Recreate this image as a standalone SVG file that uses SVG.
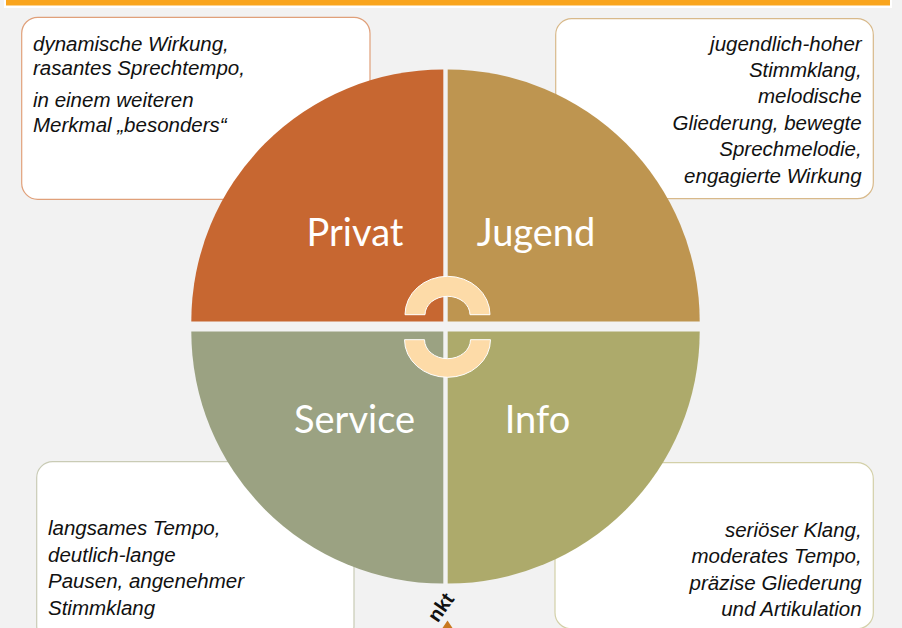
<svg xmlns="http://www.w3.org/2000/svg" width="902" height="628" viewBox="0 0 902 628">
<style>
.box{fill:#ffffff;stroke-width:1.2}
.desc{font-family:"Liberation Sans",Arial,sans-serif;font-style:italic;font-size:20.5px;fill:#111111}
.lbl{font-family:Lato,"Open Sans",sans-serif;font-size:38px;fill:#ffffff;text-anchor:middle}
.arc{fill:#FDDBA8;stroke:#ffffff;stroke-width:1}
</style>
<rect x="0" y="0" width="902" height="628" fill="#f2f2f2"/>
<rect x="4" y="0" width="888" height="8" fill="#ffffff"/>
<rect x="6" y="0" width="884" height="5.5" fill="#F9A51E"/>

<g id="box-privat">
<rect class="box" x="21.7" y="17.3" width="348.3" height="182" rx="16" stroke="#E0A07A"/>
<text class="desc" x="33" y="51">dynamische Wirkung,</text>
<text class="desc" x="33" y="75">rasantes Sprechtempo,</text>
<text class="desc" x="33" y="107">in einem weiteren</text>
<text class="desc" x="33" y="132">Merkmal „besonders“</text>
</g>
<g id="box-jugend">
<rect class="box" x="555.7" y="18.7" width="317.6" height="180" rx="16" stroke="#D8B98A"/>
<g text-anchor="end">
<text class="desc" x="861.7" y="50.5">jugendlich-hoher</text>
<text class="desc" x="861.7" y="77">Stimmklang,</text>
<text class="desc" x="861.7" y="103">melodische</text>
<text class="desc" x="861.7" y="129.5">Gliederung, bewegte</text>
<text class="desc" x="861.7" y="156">Sprechmelodie,</text>
<text class="desc" x="861.7" y="182.5">engagierte Wirkung</text>
</g>
</g>
<g id="box-service">
<rect class="box" x="36.7" y="461.7" width="317.3" height="180" rx="16" stroke="#C9CBB5"/>
<text class="desc" x="48" y="535">langsames Tempo,</text>
<text class="desc" x="48" y="561.5">deutlich-lange</text>
<text class="desc" x="48" y="588">Pausen, angenehmer</text>
<text class="desc" x="48" y="614.5">Stimmklang</text>
</g>
<g id="box-info">
<rect class="box" x="555" y="462.7" width="318.3" height="166" rx="16" stroke="#D3D0A8"/>
<g text-anchor="end">
<text class="desc" x="861.7" y="537">seriöser Klang,</text>
<text class="desc" x="861.7" y="563">moderates Tempo,</text>
<text class="desc" x="861.7" y="589.5">präzise Gliederung</text>
<text class="desc" x="861.7" y="615.7">und Artikulation</text>
</g>
</g>

<g id="privat">
<path d="M443.3,321.5 L191.3,321.5 A252,252 0 0 1 443.3,69.5 Z" fill="#C76731"/>
<text class="lbl" x="355" y="246">Privat</text>
</g>
<g id="jugend">
<path d="M447.7,321.5 L447.7,69.5 A252,252 0 0 1 699.7,321.5 Z" fill="#BE9550"/>
<text class="lbl" x="536" y="246">Jugend</text>
</g>
<g id="service">
<path d="M443.3,331.5 L443.3,583.5 A252,252 0 0 1 191.3,331.5 Z" fill="#9BA282"/>
<text class="lbl" x="354.5" y="433">Service</text>
</g>
<g id="info">
<path d="M447.7,331.5 L699.7,331.5 A252,252 0 0 1 447.7,583.5 Z" fill="#ADAA6B"/>
<text class="lbl" x="537.5" y="433">Info</text>
</g>

<g id="connectors">
<path class="arc" d="M405,314.7 A42.5,38.4 0 0 1 490,314.7 L470,314.7 A22.5,18.4 0 0 0 425,314.7 Z"/>
<path class="arc" d="M404.5,339.7 A43,37.6 0 0 0 490.5,339.7 L470.5,339.7 A23,19 0 0 1 424.5,339.7 Z"/>
</g>

<g id="schwerpunkt">
<polygon points="447.5,620.5 452.5,628 442.5,628" fill="#C8781E"/>
<text x="455" y="599" transform="rotate(-55 455 599)" text-anchor="end" font-family="Liberation Sans,Arial,sans-serif" font-weight="bold" font-size="20" fill="#111111">nkt</text>
</g>
</svg>
